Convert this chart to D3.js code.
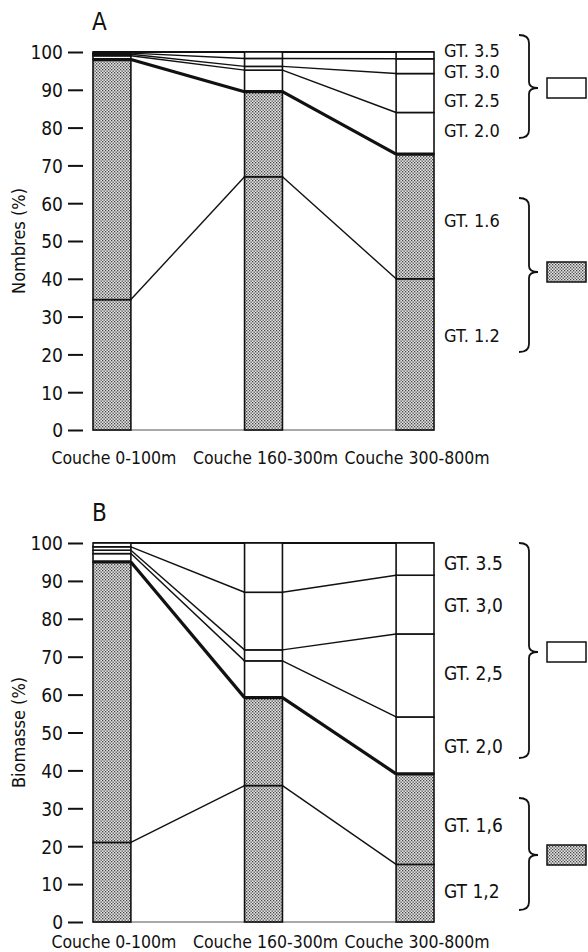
<!DOCTYPE html>
<html>
<head>
<meta charset="utf-8">
<title>Nombres / Biomasse par couche</title>
<script src="https://d3js.org/d3.v7.min.js"></script>
<style>
  body { margin: 0; background: #fff; }
  svg text { font-family: "DejaVu Sans Condensed", "DejaVu Sans", sans-serif; font-stretch: condensed; fill: #111; }
  .tick line { stroke: #111; stroke-width: 2; }
</style>
</head>
<body>
<svg id="main" width="588" height="952"></svg>
<script>
// categories and groups
var couches = ["Couche 0-100m", "Couche 160-300m", "Couche 300-800m"];
var groupes = ["GT 1.2", "GT 1.6", "GT 2.0", "GT 2.5", "GT 3.0", "GT 3.5"];
var yTicks = [0, 10, 20, 30, 40, 50, 60, 70, 80, 90, 100];

// A - nombres (%) per group, one value per couche
var nombres_12 = [34.5, 67.0, 40.0];
var nombres_16 = [63.5, 22.5, 33.0];
var nombres_20 = [1.0, 5.7, 11.0];
var nombres_25 = [0.4, 1.0, 10.3];
var nombres_30 = [0.3, 2.1, 3.9];
var nombres_35 = [0.3, 1.7, 1.8];

// B - biomasse (%)
var biomasse_12 = [21.0, 36.0, 15.2];
var biomasse_16 = [74.0, 23.2, 23.9];
var biomasse_20 = [2.2, 9.7, 15.0];
var biomasse_25 = [0.9, 2.9, 21.9];
var biomasse_30 = [0.9, 15.2, 15.5];
var biomasse_35 = [1.0, 13.0, 8.5];

var labelsA = ["GT. 1.2", "GT. 1.6", "GT. 2.0", "GT. 2.5", "GT. 3.0", "GT. 3.5"];
var labelsB = ["GT 1,2", "GT. 1,6", "GT. 2,0", "GT. 2,5", "GT. 3,0", "GT. 3.5"];

var svg = d3.select("#main");

// dotted fill for the small groups
var pat = svg.append("defs").append("pattern")
    .attr("id", "dots")
    .attr("patternUnits", "userSpaceOnUse")
    .attr("width", 3).attr("height", 3);
pat.append("rect").attr("width", 3).attr("height", 3).attr("fill", "#e4e4e4");
pat.append("rect").attr("x", 0).attr("y", 0).attr("width", 1.3).attr("height", 1.3).attr("fill", "#444");
pat.append("rect").attr("x", 1.5).attr("y", 1.5).attr("width", 1.3).attr("height", 1.3).attr("fill", "#444");

var x = d3.scaleBand().domain(couches).range([93, 434]).paddingInner(0.75).paddingOuter(0);

function panel(cfg) {
    var y = d3.scaleLinear().domain([0, 100]).range([cfg.bottom, cfg.top]);
    var g = svg.append("g");

    var rows = couches.map(function(c, i) {
        var r = { couche: c };
        groupes.forEach(function(k, j) { r[k] = cfg.values[j][i]; });
        return r;
    });
    var series = d3.stack().keys(groupes)(rows);

    // title
    g.append("text").attr("x", 92).attr("y", cfg.top - 22)
        .style("font-size", "24px").text(cfg.title);

    // y axis (ticks only)
    var ax = g.append("g").attr("transform", "translate(83,0)")
        .call(d3.axisLeft(y).tickValues(yTicks).tickSize(15).tickPadding(5));
    ax.select(".domain").remove();
    ax.selectAll("text").style("font-size", "19px").attr("dy", "0.36em");

    g.append("text")
        .attr("transform", "translate(25," + (cfg.top + cfg.bottom) / 2 + ") rotate(-90)")
        .attr("text-anchor", "middle")
        .style("font-size", "18px")
        .text(cfg.ylabel);

    // baseline and top line
    g.append("line").attr("x1", x(couches[0])).attr("x2", x(couches[2]) + x.bandwidth())
        .attr("y1", y(0)).attr("y2", y(0)).attr("stroke", "#555").attr("stroke-width", 1.2);
    g.append("line").attr("x1", x(couches[0])).attr("x2", x(couches[2]) + x.bandwidth())
        .attr("y1", y(100)).attr("y2", y(100)).attr("stroke", "#111").attr("stroke-width", 1.8);

    // connecting lines between bars
    series.forEach(function(s, j) {
        if (j == groupes.length - 1) return;
        for (var i = 0; i < couches.length - 1; i++) {
            g.append("line")
                .attr("x1", x(couches[i]) + x.bandwidth())
                .attr("y1", y(s[i][1]))
                .attr("x2", x(couches[i + 1]))
                .attr("y2", y(s[i + 1][1]))
                .attr("stroke", "#111")
                .attr("stroke-width", j == 1 ? 3.2 : 1.4);
        }
    });

    // stacked bars
    series.forEach(function(s, j) {
        g.selectAll(null).data(s).enter().append("rect")
            .attr("x", function(d) { return x(d.data.couche); })
            .attr("y", function(d) { return y(d[1]); })
            .attr("width", x.bandwidth())
            .attr("height", function(d) { return y(d[0]) - y(d[1]); })
            .attr("fill", j < 2 ? "url(#dots)" : "#fff")
            .attr("stroke", "#111")
            .attr("stroke-width", 1.6);
    });
    // thick boundary between shaded and white
    g.selectAll(null).data(series[1]).enter().append("line")
        .attr("x1", function(d) { return x(d.data.couche); })
        .attr("x2", function(d) { return x(d.data.couche) + x.bandwidth(); })
        .attr("y1", function(d) { return y(d[1]); })
        .attr("y2", function(d) { return y(d[1]); })
        .attr("stroke", "#111").attr("stroke-width", 3.2);

    // category labels
    g.selectAll(null).data(couches).enter().append("text")
        .attr("x", function(d) { return x(d) + x.bandwidth() / 2 + 2; })
        .attr("y", cfg.labelY)
        .attr("text-anchor", "middle")
        .style("font-size", "17.5px")
        .text(function(d) { return d; });

    // group labels at right
    cfg.labels.forEach(function(t, j) {
        g.append("text").attr("x", 444).attr("y", cfg.top + cfg.labelOff[j])
            .style("font-size", cfg.labelSize).text(t);
    });

    // braces + legend boxes
    cfg.braces.forEach(function(b) {
        var t = cfg.top + b[0], m = cfg.top + b[1], bt = cfg.top + b[2];
        g.append("path")
            .attr("d", "M519," + t + " Q529," + t + " 529," + (t + 8) +
                " L529," + (m - 6) + " Q529," + m + " 538," + m +
                " Q529," + m + " 529," + (m + 6) +
                " L529," + (bt - 8) + " Q529," + bt + " 519," + bt)
            .attr("fill", "none").attr("stroke", "#111").attr("stroke-width", 1.8);
        g.append("rect").attr("x", 547).attr("y", m - 10).attr("width", 39).attr("height", 20)
            .attr("fill", b[3] ? "url(#dots)" : "#fff")
            .attr("stroke", "#111").attr("stroke-width", 1.5);
    });
}

panel({
    title: "A", ylabel: "Nombres (%)", top: 52, bottom: 430, labelY: 464,
    values: [nombres_12, nombres_16, nombres_20, nombres_25, nombres_30, nombres_35],
    labels: labelsA, labelSize: "18px",
    labelOff: [290, 175, 85, 55, 26, 5],
    braces: [[-17, 36, 86, false], [146, 220, 300, true]]
});

panel({
    title: "B", ylabel: "Biomasse (%)", top: 543, bottom: 922, labelY: 948,
    values: [biomasse_12, biomasse_16, biomasse_20, biomasse_25, biomasse_30, biomasse_35],
    labels: labelsB, labelSize: "19px",
    labelOff: [355, 289, 210, 137, 69, 27],
    braces: [[0, 109, 215, false], [255, 312, 367, true]]
});
</script>
</body>
</html>
